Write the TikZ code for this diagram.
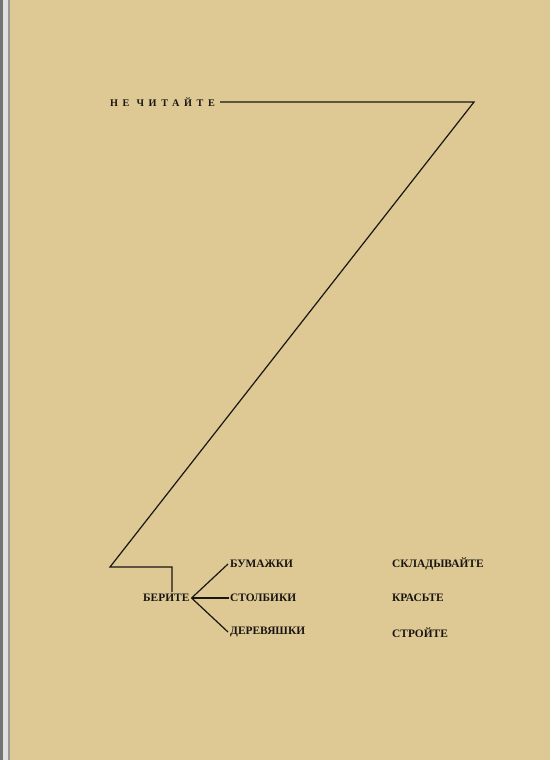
\documentclass[tikz,border=0pt]{standalone}
\usepackage{fontspec}
\setmainfont{Liberation Serif}
\definecolor{paper}{RGB}{222,200,148}
\definecolor{ink}{RGB}{25,22,18}
\tikzset{
  word/.style={inner sep=0pt, anchor=west, text=ink, font=\bfseries\fontsize{11.4}{13}\selectfont},
  title/.style={inner sep=0pt, anchor=west, text=ink,
    font=\bfseries\fontsize{10.2}{12}\selectfont\addfontfeature{LetterSpace=45}},
  stroke/.style={draw=ink, line width=1.2pt}
}
\begin{document}
\begin{tikzpicture}[x=1pt, y=-1pt]
  % page and binding edge
  \fill[paper] (0,0) rectangle (550,760);
  \fill[black!55] (0,0) rectangle (3,760);
  \fill[black!12] (3,0) rectangle (8,760);
  \fill[black!40] (8,0) rectangle (9.5,760);
  \useasboundingbox (0,0) rectangle (550,760);

  % texts
  \node[title] (ne) at (110,102) {НЕ ЧИТАЙТЕ};
  \node[word] (berite) at (143,598) {БЕРИТЕ};
  \node[word] (bum) at (230,564) {БУМАЖКИ};
  \node[word] (stol) at (230,598) {СТОЛБИКИ};
  \node[word] (der) at (230,632) {ДЕРЕВЯШКИ};
  \node[word] (sklad) at (392,564) {СКЛАДЫВАЙТЕ};
  \node[word] (kras) at (392,598) {КРАСЬТЕ};
  \node[word] (stroi) at (392,633) {СТРОЙТЕ};

  % the big zigzag
  \coordinate (tr) at (474,102);
  \coordinate (bl) at (110,567);
  \coordinate (br) at (172,567);
  \draw[stroke] ([xshift=5pt]ne.east) -- (tr) -- (bl) -- (br) -- ([yshift=2pt]br |- berite.north);

  % fork
  \coordinate (fork) at ([xshift=2pt]berite.east);
  \draw[stroke] (fork) -- ([xshift=-2pt]bum.west);
  \draw[stroke] (fork) -- ([xshift=-1pt]stol.west);
  \draw[stroke] (fork) -- ([xshift=-2pt]der.west);
\end{tikzpicture}
\end{document}
